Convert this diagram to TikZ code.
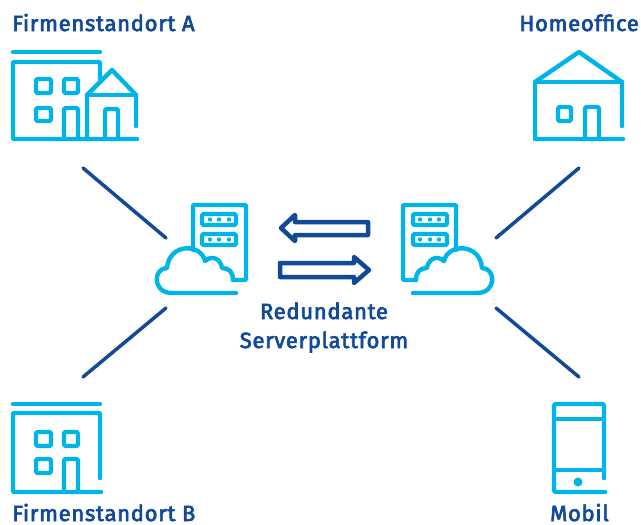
\documentclass[tikz,border=0pt]{standalone}
\usepackage{fontspec}
\setmainfont{Fira Sans}
\newfontfamily\labelfont{Fira Sans}[FakeBold=3, LetterSpace=3.3]
\usepackage{tikz}
\definecolor{darkblue}{HTML}{124A97}
\definecolor{skyblue}{HTML}{00B4E8}
\tikzstyle{icon} = [draw=skyblue, line width=4.4pt, line cap=round, line join=round]
\tikzstyle{pane} = [icon, rounded corners=1.5pt]
\tikzstyle{link} = [draw=darkblue, line width=3.5pt, line cap=round]
\tikzstyle{bigarrow} = [draw=darkblue, line width=4.5pt, line join=round]
\tikzstyle{label} = [text=darkblue, font=\fontsize{22}{26}\labelfont, inner sep=0pt]
\tikzset{
  server/.pic={
    \draw [icon, rounded corners=1pt] (193,250) -- (193,205) -- (246,205) -- (246,280) -- (233,280);
    \draw [pane] (202,214) rectangle (236,225);
    \draw [pane] (202,234) rectangle (236,245);
    \foreach \y in {219.5,239.5} {
      \foreach \x in {210,219,229} {
        \fill [skyblue] (\x,\y) circle (2.2);
      }
    }
    \draw [icon] (236,293) -- (172,293) .. controls (152,293) and (153,268) .. (167,268)
      .. controls (169,243) and (201,243) .. (205,261)
      .. controls (213,254) and (221,260) .. (222,268)
      .. controls (229,268) and (233,272) .. (233,280);
  }
}
\begin{document}
\begin{tikzpicture}[x=1pt,y=-1pt]
\useasboundingbox (0,0) rectangle (641,525);

% labels
\node(siteA)[label, anchor=base west] at (12,31) {Firmenstandort A};
\node(home)[label, anchor=base east] at (639,31) {Homeoffice};
\node(siteB)[label, anchor=base west] at (12,521) {Firmenstandort B};
\node(mobil)[label, anchor=base] at (579.5,521) {Mobil};
\node(redundant)[label, anchor=base] at (324,319) {Redundante};
\node(platform)[label, anchor=base] at (324,348) {Serverplattform};

% site A
\draw [icon] (13,52) -- (100,52);
\draw [icon, rounded corners=1pt] (100,79) -- (100,62) -- (13,62) -- (13,139) -- (137,139);
\draw [pane] (36,79) rectangle (51,93);
\draw [pane] (64,79) rectangle (78,93);
\draw [pane] (36,108) rectangle (51,121);
\draw [icon, rounded corners=1.5pt] (64,139) -- (64,108) -- (78,108) -- (78,139);
\draw [icon] (87,139) -- (87,95) -- (112,70) -- (136,95) -- (136,126);
\draw [icon] (87,95) -- (136,95);
\draw [icon, rounded corners=1.5pt] (105,139) -- (105,109) -- (118,109) -- (118,139);

% site B
\draw [icon] (13,404) -- (100,404);
\draw [icon, rounded corners=1pt] (100,478) -- (100,413) -- (13,413) -- (13,492) -- (101,492);
\draw [pane] (36,432) rectangle (51,446);
\draw [pane] (64,432) rectangle (78,446);
\draw [pane] (36,459) rectangle (51,473);
\draw [icon, rounded corners=1.5pt] (64,492) -- (64,459) -- (78,459) -- (78,492);

% homeoffice
\draw [icon] (622,126) -- (622,82) -- (579,52) -- (535,82) -- (535,139) -- (623,139);
\draw [icon] (535,82) -- (622,82);
\draw [pane] (558,107) rectangle (571,121);
\draw [icon, rounded corners=1.5pt] (585,139) -- (585,107) -- (599,107) -- (599,139);

% mobil
\draw [icon, rounded corners=2pt] (604,478) -- (604,404) -- (554,404) -- (554,492) -- (605,492);
\draw [icon] (554,419) -- (604,419);
\draw [icon] (554,470) -- (604,470);
\fill [skyblue] (578,482) circle (4.5);

% servers
\pic {server};
\pic [xshift=649pt, xscale=-1] {server};

% arrows between servers
\draw [bigarrow] (281,228) -- (295,215) -- (295,222) -- (368,222) -- (368,235) -- (295,235) -- (295,241) -- cycle;
\draw [bigarrow] (369,270) -- (354,257) -- (354,263) -- (280,263) -- (280,277) -- (354,277) -- (354,283) -- cycle;

% link ends
\coordinate (a1) at (83,168);
\coordinate (a2) at (166,238);
\coordinate (b1) at (83,377);
\coordinate (b2) at (166,308);
\coordinate (h1) at (579,168);
\coordinate (h2) at (496,238);
\coordinate (m1) at (579,377);
\coordinate (m2) at (496,308);

\draw [link] (a1) -- (a2);
\draw [link] (b1) -- (b2);
\draw [link] (h1) -- (h2);
\draw [link] (m1) -- (m2);
\end{tikzpicture}
\end{document}
